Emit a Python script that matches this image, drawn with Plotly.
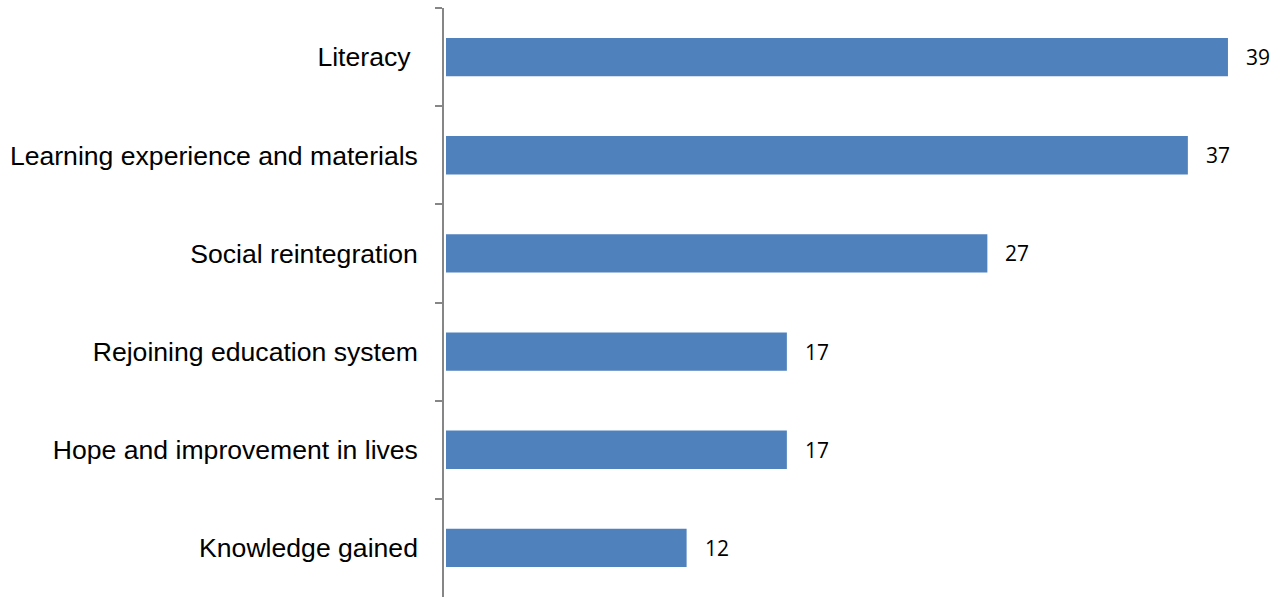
import plotly.graph_objects as go

categories = ["Literacy\u00a0", "Learning experience and materials", "Social reintegration",
              "Rejoining education system", "Hope and improvement in lives", "Knowledge gained"]
values = [39, 37, 27, 17, 17, 12]

bar_color = "#4F81BD"
axis_color = "#868686"

fig = go.Figure(go.Bar(
    x=values, y=categories, orientation="h",
    marker=dict(color=bar_color, line=dict(width=0)),
    hoverinfo="skip",
))

for c, v in zip(categories, values):
    fig.add_annotation(x=v, y=c, text=str(v), showarrow=False, xanchor="left",
                       xshift=16, yshift=0,
                       font=dict(family="Open Sans, Liberation Sans", size=21, color="#000"))

fig.update_layout(
    width=1283, height=599,
    margin=dict(l=444, r=0, t=8, b=2),
    paper_bgcolor="white", plot_bgcolor="white",
    bargap=0.61, showlegend=False,
    font=dict(family="Liberation Sans, Arial", color="#000"),
)
fig.update_xaxes(range=[-0.1, 41.745], visible=False, showgrid=False, zeroline=False)
fig.update_yaxes(
    type="category", range=[5.5, -0.5], showgrid=False, zeroline=False,
    showline=True, linecolor=axis_color, linewidth=1.5,
    ticks="outside", tickson="boundaries", ticklen=7, tickcolor=axis_color, tickwidth=1.5,
    tickfont=dict(family="Liberation Sans, Arial", size=26.6, color="#000"),
    ticklabelstandoff=19,
)

fig.write_html("out.html")
